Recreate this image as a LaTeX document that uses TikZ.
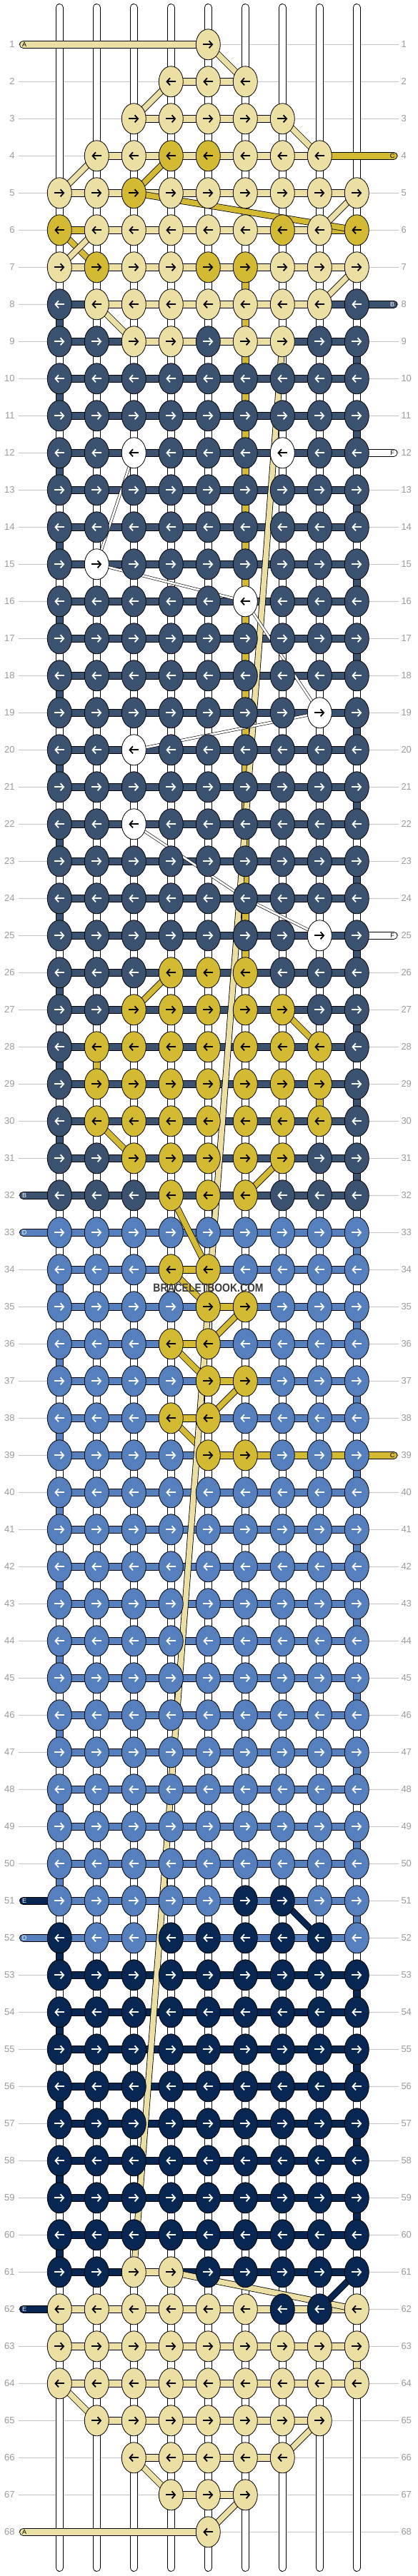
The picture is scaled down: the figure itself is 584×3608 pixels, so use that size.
\documentclass[tikz,border=0pt]{standalone}
\usepackage{fontspec}
\setmainfont{Liberation Sans}
\usetikzlibrary{arrows.meta,shapes.geometric}
\definecolor{cL}{HTML}{EBDFA3}
\definecolor{cG}{HTML}{D3BA32}
\definecolor{cN}{HTML}{3B5170}
\definecolor{cB}{HTML}{557FBD}
\definecolor{cD}{HTML}{072752}
\definecolor{cW}{HTML}{FFFFFF}
\colorlet{aL}{black}\colorlet{aG}{black}\colorlet{aW}{black}
\colorlet{aN}{white}\colorlet{aB}{white}\colorlet{aD}{white}
\definecolor{rowgray}{HTML}{C4C4C4}
\definecolor{numgray}{HTML}{9A9A9A}
\definecolor{wmgray}{HTML}{3C3C3C}
\tikzset{
 knot/.style={ellipse, draw=black, line width=0.8pt, minimum width=34pt, minimum height=43pt, inner sep=0pt},
 basestring/.style={double=white, double distance=9pt, line width=0.9pt, line cap=round},
 turnseg/.style={double=#1, double distance=9.2pt, line width=0.9pt},
 hconn/.style={double=#1, double distance=9.2pt, line width=0.9pt},
 band/.style={double=#1, double distance=7.5pt, line width=0.8pt},
 thinband/.style={double=#1, double distance=2.8pt, line width=0.6pt},
 stub/.style={double=#1, double distance=9.2pt, line width=0.9pt, line cap=round},
 rowline/.style={draw=rowgray, line width=0.9pt},
 rownum/.style={text=numgray, font=\fontsize{13}{13}\selectfont, inner sep=0pt},
 stublabel/.style={font=\fontsize{9}{9}\selectfont, inner sep=0pt},
 arrowline/.style={line width=1.8pt, -{Straight Barb[length=4.5pt,width=10pt]}},
}
\def\rowdata{%
1/{0,0,0,0,L,0,0,0,0}/{0,0,0,0,0,0,0,0},
2/{0,0,0,L,L,L,0,0,0}/{0,0,0,L,L,0,0,0},
3/{0,0,L,L,L,L,L,0,0}/{0,0,L,L,L,L,0,0},
4/{0,L,L,G,G,L,L,L,0}/{0,L,L,L,L,L,L,0},
5/{L,L,G,L,L,L,L,L,L}/{L,L,L,L,L,L,L,L},
6/{G,L,L,L,L,L,G,L,G}/{G,L,L,L,L,L,L,G},
7/{L,G,L,L,G,G,L,L,L}/{L,L,L,L,L,L,L,L},
8/{N,L,L,L,L,L,L,L,N}/{N,L,L,L,L,L,L,N},
9/{N,N,L,L,N,L,L,N,N}/{N,N,L,L,L,L,N,N},
10/{N,N,N,N,N,N,N,N,N}/{N,N,N,N,N,N,N,N},
11/{N,N,N,N,N,N,N,N,N}/{N,N,N,N,N,N,N,N},
12/{N,N,W,N,N,N,W,N,N}/{N,N,N,N,N,N,N,N},
13/{N,N,N,N,N,N,N,N,N}/{N,N,N,N,N,N,N,N},
14/{N,N,N,N,N,N,N,N,N}/{N,N,N,N,N,N,N,N},
15/{N,W,N,N,N,N,N,N,N}/{N,N,N,N,N,N,N,N},
16/{N,N,N,N,N,W,N,N,N}/{N,N,N,N,N,N,N,N},
17/{N,N,N,N,N,N,N,N,N}/{N,N,N,N,N,N,N,N},
18/{N,N,N,N,N,N,N,N,N}/{N,N,N,N,N,N,N,N},
19/{N,N,N,N,N,N,N,W,N}/{N,N,N,N,N,N,N,N},
20/{N,N,W,N,N,N,N,N,N}/{N,N,N,N,N,N,N,N},
21/{N,N,N,N,N,N,N,N,N}/{N,N,N,N,N,N,N,N},
22/{N,N,W,N,N,N,N,N,N}/{N,N,N,N,N,N,N,N},
23/{N,N,N,N,N,N,N,N,N}/{N,N,N,N,N,N,N,N},
24/{N,N,N,N,N,N,N,N,N}/{N,N,N,N,N,N,N,N},
25/{N,N,N,N,N,N,N,W,N}/{N,N,N,N,N,N,N,N},
26/{N,N,N,G,G,G,N,N,N}/{N,N,N,N,N,N,N,N},
27/{N,N,G,G,G,G,G,N,N}/{N,N,N,N,N,N,N,N},
28/{N,G,G,G,G,G,G,G,N}/{N,N,N,N,N,N,N,N},
29/{N,G,G,G,G,G,G,G,N}/{N,N,N,N,N,N,N,N},
30/{N,G,G,G,G,G,G,G,N}/{N,N,N,N,N,N,N,N},
31/{N,N,G,G,G,G,G,N,N}/{N,N,N,N,N,N,N,N},
32/{N,N,N,G,G,G,N,N,N}/{N,N,N,N,N,N,N,N},
33/{B,B,B,B,B,B,B,B,B}/{B,B,B,B,B,B,B,B},
34/{B,B,B,G,G,B,B,B,B}/{B,B,B,G,B,B,B,B},
35/{B,B,B,B,G,G,B,B,B}/{B,B,B,B,G,B,B,B},
36/{B,B,B,G,G,B,B,B,B}/{B,B,B,G,B,B,B,B},
37/{B,B,B,B,G,G,B,B,B}/{B,B,B,B,G,B,B,B},
38/{B,B,B,G,G,B,B,B,B}/{B,B,B,G,B,B,B,B},
39/{B,B,B,B,G,G,B,B,B}/{B,B,B,B,G,G,G,G},
40/{B,B,B,B,B,B,B,B,B}/{B,B,B,B,B,B,B,B},
41/{B,B,B,B,B,B,B,B,B}/{B,B,B,B,B,B,B,B},
42/{B,B,B,B,B,B,B,B,B}/{B,B,B,B,B,B,B,B},
43/{B,B,B,B,B,B,B,B,B}/{B,B,B,B,B,B,B,B},
44/{B,B,B,B,B,B,B,B,B}/{B,B,B,B,B,B,B,B},
45/{B,B,B,B,B,B,B,B,B}/{B,B,B,B,B,B,B,B},
46/{B,B,B,B,B,B,B,B,B}/{B,B,B,B,B,B,B,B},
47/{B,B,B,B,B,B,B,B,B}/{B,B,B,B,B,B,B,B},
48/{B,B,B,B,B,B,B,B,B}/{B,B,B,B,B,B,B,B},
49/{B,B,B,B,B,B,B,B,B}/{B,B,B,B,B,B,B,B},
50/{B,B,B,B,B,B,B,B,B}/{B,B,B,B,B,B,B,B},
51/{B,B,B,B,B,D,D,B,B}/{B,B,B,B,B,B,B,B},
52/{D,B,B,D,D,D,D,D,B}/{B,B,B,B,B,B,B,B},
53/{D,D,D,D,D,D,D,D,D}/{D,D,D,D,D,D,D,D},
54/{D,D,D,D,D,D,D,D,D}/{D,D,D,D,D,D,D,D},
55/{D,D,D,D,D,D,D,D,D}/{D,D,D,D,D,D,D,D},
56/{D,D,D,D,D,D,D,D,D}/{D,D,D,D,D,D,D,D},
57/{D,D,D,D,D,D,D,D,D}/{D,D,D,D,D,D,D,D},
58/{D,D,D,D,D,D,D,D,D}/{D,D,D,D,D,D,D,D},
59/{D,D,D,D,D,D,D,D,D}/{D,D,D,D,D,D,D,D},
60/{D,D,D,D,D,D,D,D,D}/{D,D,D,D,D,D,D,D},
61/{D,D,L,L,D,D,D,D,D}/{D,D,L,D,D,D,D,D},
62/{L,L,L,L,L,L,D,D,L}/{L,L,L,L,L,L,L,L},
63/{L,L,L,L,L,L,L,L,L}/{L,L,L,L,L,L,L,L},
64/{L,L,L,L,L,L,L,L,L}/{L,L,L,L,L,L,L,L},
65/{0,L,L,L,L,L,L,L,0}/{0,L,L,L,L,L,L,0},
66/{0,0,L,L,L,L,L,0,0}/{0,0,L,L,L,L,0,0},
67/{0,0,0,L,L,L,0,0,0}/{0,0,0,L,L,0,0,0},
68/{0,0,0,0,L,0,0,0,0}/{0,0,0,0,0,0,0,0}%
}
\begin{document}
\begin{tikzpicture}[x=1pt,y=-1pt]
\fill[white] (0,0) rectangle (584,3608);
\useasboundingbox (0,0) rectangle (584,3608);
% coordinates
\foreach \r in {1,...,68}{
  \pgfmathsetmacro\yy{62.3+52*(\r-1)}
  \coordinate (ll-\r) at (26,\yy);
  \coordinate (lr-\r) at (557.5,\yy);
  \coordinate (sl-\r) at (32.6,\yy);
  \coordinate (sr-\r) at (551,\yy);
  \foreach \c in {1,...,9}{
    \coordinate (p-\r-\c) at ({83.3+52*(\c-1)},\yy);
  }
}
% row lines and numbers
\foreach \r in {1,...,68}{
  \draw[rowline] (ll-\r) -- (lr-\r);
  \node[rownum, anchor=east] (nl-\r) at ([xshift=-5.2pt]ll-\r) {\r};
  \node[rownum, anchor=west] (nr-\r) at ([xshift=3.8pt]lr-\r) {\r};
}
% base strings
\foreach \c in {1,...,9}{
  \pgfmathsetmacro\xx{83.3+52*(\c-1)}
  \coordinate (st-\c) at (\xx,10.5);
  \coordinate (sb-\c) at (\xx,3596.5);
  \draw[basestring] (st-\c) -- (sb-\c);
}
% turn segments
\foreach \r in {8,10,...,30}{\pgfmathtruncatemacro\rn{\r+1}\draw[turnseg=cN] (p-\r-1) -- (p-\rn-1);}
\foreach \r in {9,11,...,31}{\pgfmathtruncatemacro\rn{\r+1}\draw[turnseg=cN] (p-\r-9) -- (p-\rn-9);}
\foreach \r in {33,35,...,51}{\pgfmathtruncatemacro\rn{\r+1}\draw[turnseg=cB] (p-\r-9) -- (p-\rn-9);}
\foreach \r in {34,36,...,50}{\pgfmathtruncatemacro\rn{\r+1}\draw[turnseg=cB] (p-\r-1) -- (p-\rn-1);}
\foreach \r in {52,54,...,60}{\pgfmathtruncatemacro\rn{\r+1}\draw[turnseg=cD] (p-\r-1) -- (p-\rn-1);}
\foreach \r in {53,55,57,59}{\pgfmathtruncatemacro\rn{\r+1}\draw[turnseg=cD] (p-\r-9) -- (p-\rn-9);}
\draw[turnseg=cL] (p-62-1) -- (p-63-1);
\draw[turnseg=cL] (p-63-9) -- (p-64-9);
\draw[turnseg=cG] (p-7-6) -- (p-26-6);
\draw[turnseg=cG] (p-28-2) -- (p-29-2);
\draw[turnseg=cG] (p-29-8) -- (p-30-8);
% stubs
\draw[stub=cL] (sl-1) -- (p-1-5);
\draw[stub=cG] (p-4-8) -- (sr-4);
\draw[stub=cN] (p-8-9) -- (sr-8);
\draw[stub=cW] (p-12-9) -- (sr-12);
\draw[stub=cW] (p-25-9) -- (sr-25);
\draw[stub=cN] (sl-32) -- (p-32-1);
\draw[stub=cB] (sl-33) -- (p-33-1);
\draw[stub=cG] (p-39-9) -- (sr-39);
\draw[stub=cD] (sl-51) -- (p-51-1);
\draw[stub=cB] (sl-52) -- (p-52-1);
\draw[stub=cD] (sl-62) -- (p-62-1);
\draw[stub=cL] (sl-68) -- (p-68-5);
% horizontal connectors
\foreach \r/\K/\H in \rowdata {
  \foreach \c [count=\i] in \H {
    \if\c0\else
      \pgfmathtruncatemacro\j{\i+1}
      \draw[hconn=c\c] (p-\r-\i) -- (p-\r-\j);
    \fi
  }
}
% diagonal thread bands: gold
\foreach \a/\b/\cc/\d in {4/4/3/5, 3/5/9/6, 1/6/2/7, 4/26/3/27, 7/27/8/28, 2/30/3/31, 7/31/6/32,
  4/32/5/34, 4/34/5/35, 6/35/5/36, 4/36/5/37, 6/37/5/38, 4/38/5/39}{
  \draw[band=cG] (p-\b-\a) -- (p-\d-\cc);
}
% light yellow
\foreach \a/\b/\cc/\d in {5/1/6/2, 4/2/3/3, 7/3/8/4, 2/4/1/5, 9/5/8/6, 2/6/1/7, 9/7/8/8, 2/8/3/9,
  1/64/2/65, 8/65/7/66, 3/66/4/67, 6/67/5/68}{
  \draw[band=cL] (p-\b-\a) -- (p-\d-\cc);
}
\draw[band=cL] (p-9-7) -- (p-61-3);
\draw[band=cL] (p-61-4) -- (p-62-9);
% dark navy
\draw[band=cD] (p-51-7) -- (p-52-8);
\draw[band=cD] (p-61-9) -- (p-62-8);
% white thin
\foreach \a/\b/\cc/\d in {3/12/2/15, 2/15/6/16, 6/16/8/19, 8/19/3/20, 3/22/6/24, 6/24/8/25}{
  \draw[thinband=white] (p-\b-\a) -- (p-\d-\cc);
}
% knots with arrows
\foreach \r/\K/\H in \rowdata {
  \foreach \c [count=\i] in \K {
    \if\c0\else
      \node[knot, fill=c\c] (k-\r-\i) at (p-\r-\i) {};
      \ifodd\r
        \draw[arrowline, draw=a\c] ([xshift=-7pt]k-\r-\i.center) -- ([xshift=7pt]k-\r-\i.center);
      \else
        \draw[arrowline, draw=a\c] ([xshift=7pt]k-\r-\i.center) -- ([xshift=-7pt]k-\r-\i.center);
      \fi
    \fi
  }
}
% stub labels
\node[stublabel, text=black] (lab-1) at ([xshift=1.5pt]sl-1) {A};
\node[stublabel, text=black] (lab-4) at ([xshift=-2pt]sr-4) {C};
\node[stublabel, text=white] (lab-8) at ([xshift=-2pt]sr-8) {B};
\node[stublabel, text=black] (lab-12) at ([xshift=-2pt]sr-12) {F};
\node[stublabel, text=black] (lab-25) at ([xshift=-2pt]sr-25) {F};
\node[stublabel, text=white] (lab-32) at ([xshift=1.5pt]sl-32) {B};
\node[stublabel, text=white] (lab-33) at ([xshift=1.5pt]sl-33) {D};
\node[stublabel, text=black] (lab-39) at ([xshift=-2pt]sr-39) {C};
\node[stublabel, text=white] (lab-51) at ([xshift=1.5pt]sl-51) {E};
\node[stublabel, text=white] (lab-52) at ([xshift=1.5pt]sl-52) {D};
\node[stublabel, text=white] (lab-62) at ([xshift=1.5pt]sl-62) {E};
\node[stublabel, text=black] (lab-68) at ([xshift=1.5pt]sl-68) {A};
% watermark
\node[text=wmgray, font=\bfseries\fontsize{16.3}{16.3}\selectfont, inner sep=0pt] (wm) at (291.5,1804.2) {\scalebox{0.855}[1]{BRACELETBOOK.COM}};
\end{tikzpicture}
\end{document}
